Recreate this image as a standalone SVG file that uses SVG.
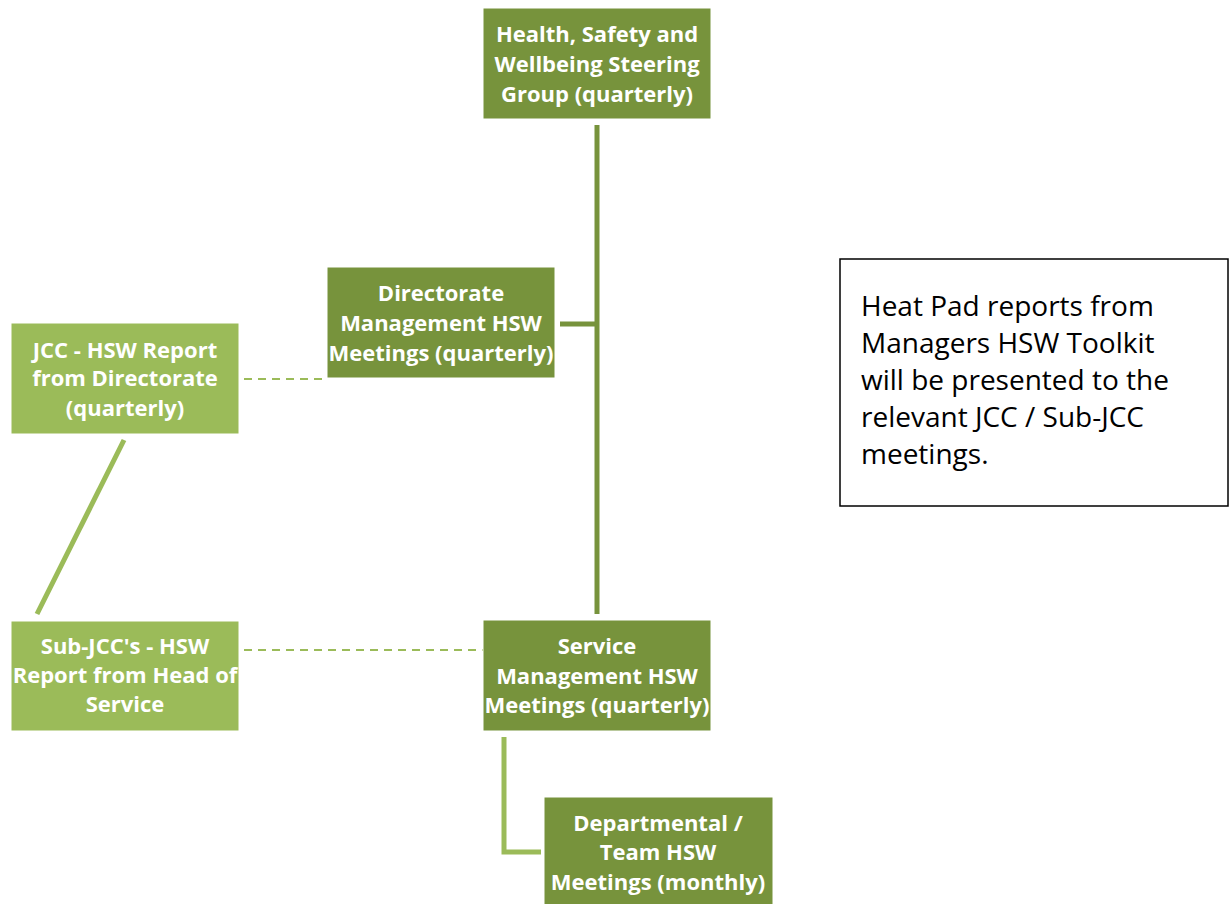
<svg xmlns="http://www.w3.org/2000/svg" width="1229" height="904" viewBox="0 0 1229 904">
<style>
.dk{fill:#77933C;stroke:#fff;stroke-width:1}
.lt{fill:#9BBB59;stroke:#fff;stroke-width:1}
.nt{font-family:"Open Sans","Liberation Sans",sans-serif;font-weight:bold;font-size:22px;fill:#fff;text-anchor:middle}
.solid{stroke:#77933C;stroke-width:5;fill:none}
.solidl{stroke:#9BBB59;stroke-width:5;fill:none}
.dash{stroke:#9BBB59;stroke-width:2;stroke-dasharray:8,6;fill:none}
.note{font-family:"Open Sans","Liberation Sans",sans-serif;font-size:28px;fill:#000}
</style>
<rect width="1229" height="904" fill="#fff"/>
<g id="connectors">
<line class="solid" x1="597" y1="125" x2="597" y2="614"/>
<line class="solid" x1="560" y1="324" x2="597" y2="324"/>
<polyline class="solidl" points="504,737 504,852 541,852"/>
<line class="solidl" x1="124" y1="440" x2="37" y2="614"/>
<line class="dash" x1="244" y1="379" x2="324" y2="379"/>
<line class="dash" x1="244" y1="650" x2="483" y2="650"/>
</g>
<g id="steering">
<rect class="dk" x="483" y="8" width="228" height="111"/>
<text class="nt" x="597" y="42">Health, Safety and</text>
<text class="nt" x="597" y="72">Wellbeing Steering</text>
<text class="nt" x="597" y="102">Group (quarterly)</text>
</g>
<g id="directorate">
<rect class="dk" x="327" y="267" width="228" height="111"/>
<text class="nt" x="441" y="301">Directorate</text>
<text class="nt" x="441" y="331">Management HSW</text>
<text class="nt" x="441" y="361">Meetings (quarterly)</text>
</g>
<g id="jcc">
<rect class="lt" x="11" y="323" width="228" height="111"/>
<text class="nt" x="125" y="358">JCC - HSW Report</text>
<text class="nt" x="125" y="386">from Directorate</text>
<text class="nt" x="125" y="416">(quarterly)</text>
</g>
<g id="subjcc">
<rect class="lt" x="11" y="621" width="228" height="110"/>
<text class="nt" x="125" y="654">Sub-JCC's - HSW</text>
<text class="nt" x="125" y="683">Report from Head of</text>
<text class="nt" x="125" y="712">Service</text>
</g>
<g id="service">
<rect class="dk" x="483" y="620" width="228" height="111"/>
<text class="nt" x="597" y="654">Service</text>
<text class="nt" x="597" y="684">Management HSW</text>
<text class="nt" x="597" y="713">Meetings (quarterly)</text>
</g>
<g id="departmental">
<rect class="dk" x="544" y="797" width="229" height="110"/>
<text class="nt" x="658" y="831">Departmental /</text>
<text class="nt" x="658" y="860">Team HSW</text>
<text class="nt" x="658" y="890">Meetings (monthly)</text>
</g>
<g id="note">
<rect x="840" y="259" width="388" height="247" fill="#fff" stroke="#000" stroke-width="1.5"/>
<text class="note" x="861" y="316">Heat Pad reports from</text>
<text class="note" x="861" y="353">Managers HSW Toolkit</text>
<text class="note" x="861" y="390">will be presented to the</text>
<text class="note" x="861" y="427">relevant JCC / Sub-JCC</text>
<text class="note" x="861" y="464">meetings.</text>
</g>
</svg>
